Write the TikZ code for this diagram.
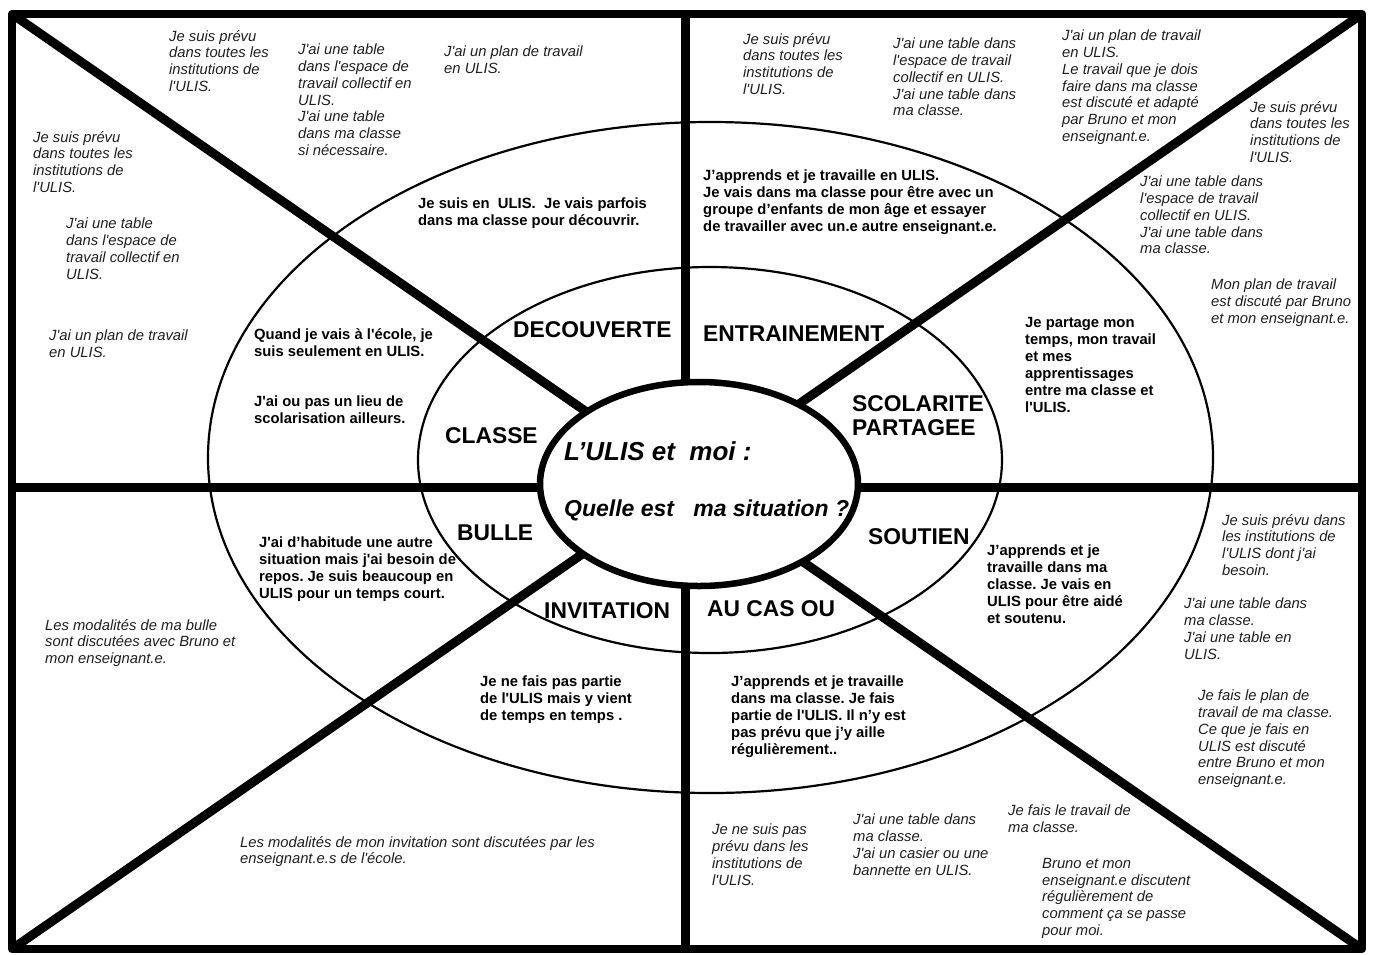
\documentclass[tikz,border=0pt]{standalone}
\usepackage{fontspec}
\newfontfamily\lib{Liberation Sans}
\usetikzlibrary{shapes.geometric}
\frenchspacing
\begin{document}
\begin{tikzpicture}[x=1pt,y=-1pt,
  itx/.style={anchor=north west, inner sep=0pt, align=left, text=black!88,
    font=\lib\itshape\fontsize{14.8pt}{16.7pt}\selectfont},
  bdx/.style={anchor=north west, inner sep=0pt, align=left,
    font=\lib\bfseries\fontsize{14.8pt}{17pt}\selectfont},
  lbl/.style={anchor=north west, inner sep=0pt, align=left,
    font=\lib\bfseries\fontsize{22.8pt}{24.5pt}\selectfont},
  ctr/.style={anchor=north west, inner sep=0pt},
  divider/.style={line width=9pt},
  ring/.style={line width=2.2pt},
]
\fill[white] (0,0) rectangle (1373,954);
\useasboundingbox (0,0) rectangle (1373,954);

% corners and axes
\coordinate (TL) at (12,14);
\coordinate (TR) at (1362,14);
\coordinate (BL) at (12,949);
\coordinate (BR) at (1362,949);
\coordinate (VT) at (685,14);
\coordinate (VB) at (685,949);
\coordinate (HL) at (12,487);
\coordinate (HR) at (1362,487);

% rings
\draw[ring] (710.5,457.5) ellipse [x radius=502.5pt, y radius=335.5pt];
\draw[ring] (710,460) ellipse [x radius=292pt, y radius=193pt];

% dividers
\begin{scope}
\clip (TL) rectangle (BR);
\draw[divider] (TL) -- (BR);
\draw[divider] (TR) -- (BL);
\draw[divider] (VT) -- (VB);
\draw[divider] (HL) -- (HR);
\end{scope}

% frame
\draw[line width=8.5pt, line join=round] (TL) rectangle (BR);

% centre
\node[draw, ellipse, line width=6.5pt, fill=white, minimum width=318pt,
  minimum height=204pt, inner sep=0pt] (core) at (699,484) {};
\node[ctr, font=\lib\bfseries\itshape\fontsize{26pt}{30pt}\selectfont] (title) at (564,441) {L’ULIS et\ \ moi :};
\node[ctr, font=\lib\bfseries\itshape\fontsize{23pt}{28pt}\selectfont] (question) at (564,500) {Quelle est\ \ \ ma situation ?};

% labels
\node[lbl] (decouverte) at (513,321) {DECOUVERTE};
\node[lbl] (entrainement) at (703,326) {ENTRAINEMENT};
\node[lbl] (classe) at (445,427) {CLASSE};
\node[lbl] (scolarite) at (852,395) {SCOLARITE\\PARTAGEE};
\node[lbl] (bulle) at (457,525) {BULLE};
\node[lbl] (soutien) at (868,528) {SOUTIEN};
\node[lbl] (invitation) at (544,602) {INVITATION};
\node[lbl] (aucasou) at (707,600) {AU CAS OU};

% bold inner texts
\node[bdx] (b1) at (418,198) {Je suis en\ \ ULIS.\ \ Je vais parfois\\dans ma classe pour découvrir.};
\node[bdx] (b2) at (254,328) {Quand je vais à l'école, je\\suis seulement en ULIS.};
\node[bdx] (b3) at (254,396) {J'ai ou pas un lieu de\\scolarisation ailleurs.};
\node[bdx] (b4) at (703,170) {J’apprends et je travaille en ULIS.\\Je vais dans ma classe pour être avec un\\groupe d’enfants de mon âge et essayer\\de travailler avec un.e autre enseignant.e.};
\node[bdx] (b5) at (1025,317) {Je partage mon\\temps, mon travail\\et mes\\apprentissages\\entre ma classe et\\l'ULIS.};
\node[bdx] (b6) at (259,537) {J'ai d’habitude une autre\\situation mais j'ai besoin de\\repos. Je suis beaucoup en\\ULIS pour un temps court.};
\node[bdx] (b7) at (480,676) {Je ne fais pas partie\\de l'ULIS mais y vient\\de temps en temps .};
\node[bdx] (b8) at (731,676) {J’apprends et je travaille\\dans ma classe. Je fais\\partie de l'ULIS. Il n’y est\\pas prévu que j’y aille\\régulièrement..};
\node[bdx] (b9) at (987,545) {J’apprends et je\\travaille dans ma\\classe. Je vais en\\ULIS pour être aidé\\et soutenu.};

% italic outer texts: top left
\node[itx] (i1) at (169,30) {Je suis prévu\\dans toutes les\\institutions de\\l'ULIS.};
\node[itx] (i2) at (298,44) {J'ai une table\\dans l'espace de\\travail collectif en\\ULIS.\\J'ai une table\\dans ma classe\\si nécessaire.};
\node[itx] (i3) at (444,46) {J'ai un plan de travail\\en ULIS.};
\node[itx] (i4) at (33,131) {Je suis prévu\\dans toutes les\\institutions de\\l'ULIS.};
\node[itx] (i5) at (66,218) {J'ai une table\\dans l'espace de\\travail collectif en\\ULIS.};
\node[itx] (i6) at (49,330) {J'ai un plan de travail\\en ULIS.};
% top right
\node[itx] (i7) at (743,33) {Je suis prévu\\dans toutes les\\institutions de\\l'ULIS.};
\node[itx] (i8) at (893,38) {J'ai une table dans\\l'espace de travail\\collectif en ULIS.\\J'ai une table dans\\ma classe.};
\node[itx] (i9) at (1062,30) {J'ai un plan de travail\\en ULIS.\\Le travail que je dois\\faire dans ma classe\\est discuté et adapté\\par Bruno et mon\\enseignant.e.};
\node[itx] (i10) at (1250,101) {Je suis prévu\\dans toutes les\\institutions de\\l'ULIS.};
\node[itx] (i11) at (1140,176) {J'ai une table dans\\l'espace de travail\\collectif en ULIS.\\J'ai une table dans\\ma classe.};
\node[itx] (i12) at (1211,279) {Mon plan de travail\\est discuté par Bruno\\et mon enseignant.e.};
% bottom left
\node[itx] (i13) at (45,619) {Les modalités de ma bulle\\sont discutées avec Bruno et\\mon enseignant.e.};
\node[itx] (i14) at (240,836) {Les modalités de mon invitation sont discutées par les\\enseignant.e.s de l'école.};
% bottom right
\node[itx] (i15) at (1222,514) {Je suis prévu dans\\les institutions de\\l'ULIS dont j'ai\\besoin.};
\node[itx] (i16) at (1184,598) {J'ai une table dans\\ma classe.\\J'ai une table en\\ULIS.};
\node[itx] (i17) at (1198,690) {Je fais le plan de\\travail de ma classe.\\Ce que je fais en\\ULIS est discuté\\entre Bruno et mon\\enseignant.e.};
\node[itx] (i18) at (1008,805) {Je fais le travail de\\ma classe.};
\node[itx] (i19) at (1042,858) {Bruno et mon\\enseignant.e discutent\\régulièrement de\\comment ça se passe\\pour moi.};
\node[itx] (i20) at (712,824) {Je ne suis pas\\prévu dans les\\institutions de\\l'ULIS.};
\node[itx] (i21) at (853,814) {J'ai une table dans\\ma classe.\\J'ai un casier ou une\\bannette en ULIS.};
\end{tikzpicture}
\end{document}
